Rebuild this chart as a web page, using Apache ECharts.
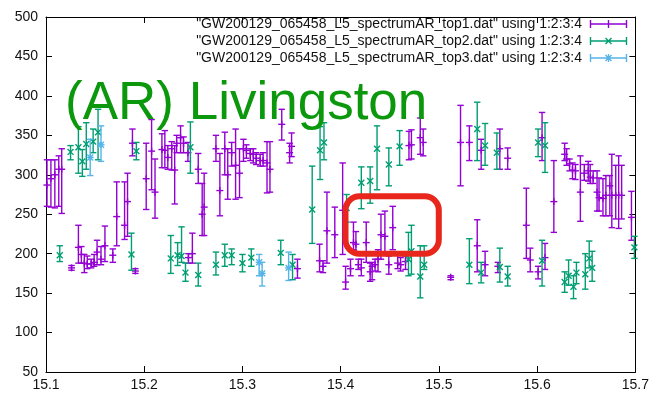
<!DOCTYPE html>
<html>
<head>
<meta charset="utf-8">
<script src="https://cdn.jsdelivr.net/npm/echarts@6/dist/echarts.min.js"></script>
<style>
  html, body { margin: 0; padding: 0; background: #fff; }
  #chart { width: 652px; height: 397px; }
</style>
</head>
<body>
<div id="chart"></div>
<script>
// ---- data: x, y, ylow, yhigh (gnuplot "using 1:2:3:4" yerrorbars) ----
const top1X = [15.101, 15.105, 15.109, 15.113, 15.116, 15.126, 15.133, 15.136, 15.139, 15.142,
  15.146, 15.149, 15.152, 15.156, 15.160, 15.168, 15.172, 15.180, 15.183, 15.188,
  15.191, 15.202, 15.2075, 15.211, 15.218, 15.221, 15.224, 15.228, 15.231, 15.233,
  15.237, 15.240, 15.2445, 15.245, 15.249, 15.255, 15.259, 15.261, 15.273, 15.277,
  15.282, 15.285, 15.289, 15.293, 15.297, 15.301, 15.304, 15.308, 15.311, 15.314,
  15.318, 15.321, 15.325, 15.328, 15.340, 15.348, 15.350, 15.356, 15.3785, 15.382,
  15.386, 15.394, 15.402, 15.405, 15.410, 15.413, 15.4155, 15.418, 15.421, 15.426,
  15.430, 15.432, 15.435, 15.438, 15.441, 15.445, 15.449, 15.453, 15.458, 15.461,
  15.466, 15.4695, 15.472, 15.481, 15.484, 15.512, 15.522, 15.531, 15.539, 15.543,
  15.547, 15.560, 15.562, 15.570, 15.589, 15.593, 15.601, 15.605, 15.608, 15.617,
  15.628, 15.630, 15.633, 15.636, 15.639, 15.644, 15.648, 15.652, 15.654, 15.657,
  15.661, 15.663, 15.667, 15.670, 15.674, 15.676, 15.680, 15.683, 15.686, 15.696];
const top1Y = [287, 295, 300, 307, 307, 182, 208, 199, 188, 187,
  187, 189, 202, 193, 210, 198, 247, 236, 266, 340,
  178, 295, 330, 278, 332, 331, 322, 333, 306, 340,
  347, 340, 328, 195, 200, 307, 250, 259, 333, 280,
  333, 300, 328, 312, 302, 333, 331, 327, 326, 321,
  318, 318, 315, 307, 364, 328, 336, 181, 191, 184,
  229, 224, 255, 164, 181, 214, 212, 186, 182, 214,
  177, 184, 186, 193, 224, 222, 186, 233, 188, 186,
  190, 337, 338, 347, 341, 170, 341, 341, 210, 331,
  186, 184, 333, 321, 236, 192, 177, 347, 195, 266,
  326, 320, 314, 306, 305, 278, 302, 305, 297, 296,
  278, 271, 270, 274, 286, 274, 274, 274, 274, 246];
const top1Low = [260, 259, 258, 260, 251, 179, 188, 188, 176, 181,
  182, 184, 186, 186, 190, 189, 210, 218, 222, 324,
  175, 256, 281, 245, 309, 309, 307, 306, 263, 328,
  328, 328, 317, 188, 188, 289, 223, 223, 317, 248,
  300, 269, 311, 269, 271, 317, 321, 318, 315, 313,
  311, 311, 277, 278, 344, 315, 323, 169, 177, 176,
  188, 195, 199, 155, 172, 205, 201, 180, 172, 189,
  165, 167, 178, 177, 193, 199, 174, 205, 181, 178,
  180, 319, 320, 326, 324, 167, 286, 318, 177, 307,
  172, 176, 307, 307, 194, 177, 168, 318, 180, 227,
  318, 312, 305, 295, 294, 241, 293, 292, 289, 289,
  254, 254, 248, 248, 248, 233, 244, 232, 244, 217];
const top1High = [319, 319, 319, 324, 333, 185, 236, 209, 199, 197,
  193, 199, 217, 209, 235, 206, 291, 291, 302, 358,
  181, 340, 370, 320, 352, 356, 337, 342, 337, 350,
  362, 348, 341, 200, 226, 327, 289, 302, 350, 327,
  354, 333, 341, 358, 333, 345, 338, 333, 333, 328,
  326, 328, 342, 342, 383, 340, 353, 193, 212, 191,
  278, 259, 315, 184, 193, 240, 228, 193, 193, 240,
  188, 189, 193, 205, 250, 254, 197, 260, 198, 195,
  197, 355, 357, 372, 358, 172, 388, 362, 243, 345,
  203, 189, 358, 334, 283, 207, 184, 379, 213, 318,
  340, 333, 320, 315, 313, 324, 313, 317, 313, 305,
  305, 296, 295, 299, 299, 326, 312, 324, 312, 279];

const top2X = [15.114, 15.125, 15.133, 15.137, 15.141, 15.148, 15.153, 15.187, 15.192, 15.227,
  15.234, 15.238, 15.242, 15.247, 15.255, 15.273, 15.282, 15.289, 15.300, 15.309,
  15.339, 15.351, 15.371, 15.379, 15.383, 15.406, 15.421, 15.430, 15.437, 15.449,
  15.460, 15.469, 15.472, 15.481, 15.485, 15.531, 15.539, 15.543, 15.547, 15.559,
  15.562, 15.570, 15.601, 15.605, 15.608, 15.628, 15.632, 15.637, 15.640, 15.649,
  15.653, 15.656, 15.699];
const top2Y = [198, 329, 335, 317, 339, 342, 354, 199, 330, 194,
  198, 197, 176, 335, 173, 186, 198, 198, 188, 195,
  201, 186, 256, 331, 341, 258, 290, 292, 333, 313,
  336, 193, 203, 171, 186, 186, 358, 176, 337, 328,
  183, 171, 341, 191, 337, 164, 172, 158, 176, 174,
  194, 182, 208];
const top2Low = [190, 319, 302, 298, 307, 328, 319, 179, 319, 175,
  185, 189, 165, 302, 159, 173, 184, 186, 177, 184,
  186, 167, 213, 294, 319, 240, 257, 264, 281, 286,
  312, 172, 174, 144, 180, 162, 318, 163, 312, 307,
  164, 159, 323, 159, 303, 151, 160, 143, 162, 155,
  182, 165, 194];
const top2High = [210, 337, 361, 332, 366, 358, 383, 226, 341, 223,
  214, 234, 188, 367, 188, 202, 212, 206, 199, 206,
  217, 199, 311, 361, 366, 275, 310, 310, 362, 334,
  356, 227, 236, 210, 210, 219, 392, 189, 365, 353,
  207, 184, 358, 217, 366, 177, 192, 172, 189, 200,
  216, 203, 222];

const top3X = [15.145, 15.156, 15.317, 15.320, 15.347];
const top3Y = [322, 338, 189, 175, 182];
const top3Low = [299, 317, 172, 159, 166];
const top3High = [345, 362, 199, 189, 202];

const seriesNames = [
  '"GW200129_065458_L5_spectrumAR_top1.dat" using 1:2:3:4',
  '"GW200129_065458_L5_spectrumAR_top2.dat" using 1:2:3:4',
  '"GW200129_065458_L5_spectrumAR_top3.dat" using 1:2:3:4'
];
const xTickValues = [15.1, 15.2, 15.3, 15.4, 15.5, 15.6, 15.7];
const yTickValues = [50, 100, 150, 200, 250, 300, 350, 400, 450, 500];
const titleText = '(AR) Livingston';

// ---- styling ----
const colors = ['#9400d3', '#009e73', '#56b4e9'];
const markers = ['plus', 'cross', 'star'];
const FONT = '"Liberation Sans", Arial, Helvetica, sans-serif';

function rows(xs, ys, lo, hi) {
  return xs.map((x, i) => [x, ys[i], lo[i], hi[i]]);
}

function markerShapes(kind, cx, cy, style) {
  const m = 3.5;
  const out = [];
  if (kind === 'plus' || kind === 'star') {
    out.push({ type: 'line', shape: { x1: cx - m, y1: cy, x2: cx + m, y2: cy }, style });
    out.push({ type: 'line', shape: { x1: cx, y1: cy - m, x2: cx, y2: cy + m }, style });
  }
  if (kind === 'cross' || kind === 'star') {
    const d = m * 0.85;
    out.push({ type: 'line', shape: { x1: cx - d, y1: cy - d, x2: cx + d, y2: cy + d }, style });
    out.push({ type: 'line', shape: { x1: cx - d, y1: cy + d, x2: cx + d, y2: cy - d }, style });
  }
  return out;
}

function errorBars(kind, color) {
  return function (params, api) {
    const x = api.value(0);
    const pC = api.coord([x, api.value(1)]);
    const pLo = api.coord([x, api.value(2)]);
    const pHi = api.coord([x, api.value(3)]);
    const cap = 3.2;
    const style = { stroke: color, lineWidth: 1.4, fill: null };
    const children = [
      { type: 'line', shape: { x1: pHi[0], y1: pHi[1], x2: pLo[0], y2: pLo[1] }, style },
      { type: 'line', shape: { x1: pHi[0] - cap, y1: pHi[1], x2: pHi[0] + cap, y2: pHi[1] }, style },
      { type: 'line', shape: { x1: pLo[0] - cap, y1: pLo[1], x2: pLo[0] + cap, y2: pLo[1] }, style }
    ].concat(markerShapes(kind, pC[0], pC[1], style));
    return { type: 'group', children };
  };
}

// legend samples: bar with end caps and the point marker in the middle
const legendIcons = [
  'path://M0 5H36M0 1V9M36 1V9M18 1V9M14.5 5H21.5',
  'path://M0 5H36M0 1V9M36 1V9M15 2L21 8M15 8L21 2',
  'path://M0 5H36M0 1V9M36 1V9M18 1V9M15 2L21 8M15 8L21 2'
];

const datasets = [
  rows(top1X, top1Y, top1Low, top1High),
  rows(top2X, top2Y, top2Low, top2High),
  rows(top3X, top3Y, top3Low, top3High)
];

const chart = echarts.init(document.getElementById('chart'), null, { renderer: 'canvas' });

const axisCommon = {
  axisLine: { show: true, lineStyle: { color: '#000', width: 1 } },
  axisTick: { show: true, inside: true, length: 6, lineStyle: { color: '#000', width: 1 } },
  splitLine: { show: false }
};

chart.setOption({
  animation: false,
  backgroundColor: '#fff',
  grid: { left: 46, right: 12, top: 17, bottom: 25, containLabel: false },
  legend: {
    orient: 'vertical',
    right: 18,
    top: 12,
    align: 'right',
    itemWidth: 37,
    itemHeight: 8,
    itemGap: 3,
    selectedMode: false,
    textStyle: { fontFamily: FONT, fontSize: 14, color: '#111', padding: [0, 3, 0, 0] },
    data: seriesNames.map((n, i) => ({
      name: n,
      icon: legendIcons[i],
      itemStyle: { color: 'none', borderColor: colors[i], borderWidth: 1.4 }
    }))
  },
  xAxis: [
    Object.assign({
      type: 'value', min: xTickValues[0], max: xTickValues[xTickValues.length - 1], interval: 0.1,
      position: 'bottom',
      axisLabel: { fontFamily: FONT, fontSize: 14, color: '#111', margin: 6,
        formatter: v => v.toFixed(1) }
    }, axisCommon),
    Object.assign({
      type: 'value', min: xTickValues[0], max: xTickValues[xTickValues.length - 1], interval: 0.1,
      position: 'top', axisLabel: { show: false }
    }, axisCommon)
  ],
  yAxis: [
    Object.assign({
      type: 'value', min: yTickValues[0], max: yTickValues[yTickValues.length - 1], interval: 50,
      position: 'left',
      axisLabel: { fontFamily: FONT, fontSize: 14, color: '#111', margin: 8 }
    }, axisCommon),
    Object.assign({
      type: 'value', min: yTickValues[0], max: yTickValues[yTickValues.length - 1], interval: 50,
      position: 'right', axisLabel: { show: false }
    }, axisCommon)
  ],
  series: datasets.map((d, i) => ({
    type: 'custom',
    name: seriesNames[i],
    xAxisIndex: 0,
    yAxisIndex: 0,
    itemStyle: { color: colors[i] },
    renderItem: errorBars(markers[i], colors[i]),
    encode: { x: 0, y: [1, 2, 3] },
    data: d,
    z: 2 + i
  })),
  graphic: [
    {
      type: 'text', left: 65, top: 78, z: 100,
      style: { text: titleText, font: '53px ' + FONT, fill: '#0c980c' }
    },
    {
      type: 'rect', z: 100,
      shape: { x: 345.5, y: 196.3, width: 93.3, height: 57.4, r: 14 },
      style: { fill: 'none', stroke: '#e8261b', lineWidth: 6 }
    }
  ]
});
</script>
</body>
</html>
